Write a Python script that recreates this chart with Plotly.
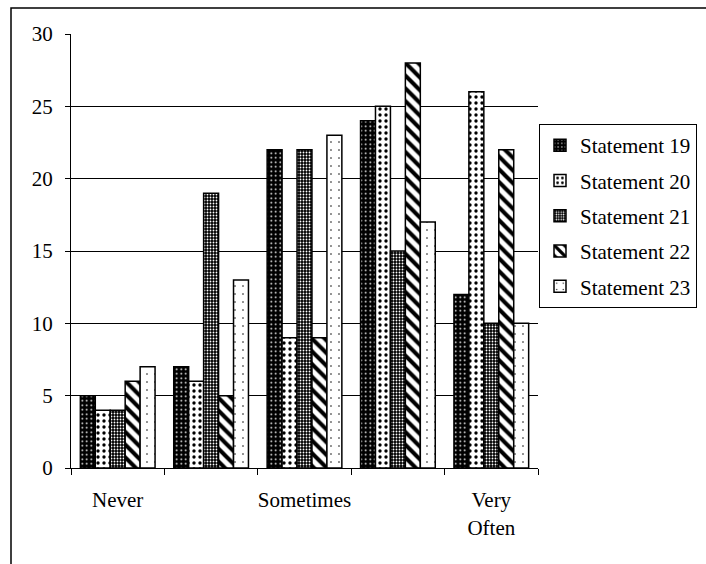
import plotly.graph_objects as go

# Response categories (two unlabeled in-between points on the scale)
categories = ["Never", " ", "Sometimes", "  ", "Very<br>Often"]

series_names = ["Statement 19", "Statement 20", "Statement 21", "Statement 22", "Statement 23"]
statement_19 = [5, 7, 22, 24, 12]
statement_20 = [4, 6, 9, 25, 26]
statement_21 = [4, 19, 22, 15, 10]
statement_22 = [6, 5, 9, 28, 22]
statement_23 = [7, 13, 23, 17, 10]
series_values = [statement_19, statement_20, statement_21, statement_22, statement_23]

y_ticks = [0, 5, 10, 15, 20, 25, 30]

# Black-and-white fill patterns, one per statement
patterns = [
    dict(shape=".", fgcolor="white", bgcolor="black", size=4.5, solidity=0.12),
    dict(shape=".", fgcolor="black", bgcolor="white", size=6, solidity=0.25),
    dict(shape=".", fgcolor="white", bgcolor="black", size=3, solidity=0.3),
    dict(shape="\\", fgcolor="black", bgcolor="white", size=9, solidity=0.45),
    dict(shape=".", fgcolor="black", bgcolor="white", size=8, solidity=0.03),
]

FONT = "Liberation Serif"
FS = 21
W, H = 706, 564

fig = go.Figure()
for i, (name, vals, pat) in enumerate(zip(series_names, series_values, patterns)):
    fig.add_trace(go.Bar(
        x=categories, y=vals, name=name, legendgroup=f"g{i}",
        marker=dict(color=pat["bgcolor"], pattern=dict(fillmode="replace", **pat),
                    line=dict(color="black", width=1.5)),
    ))

fig.update_layout(
    width=W, height=H,
    margin=dict(l=71, r=168, t=34, b=96, autoexpand=False),
    paper_bgcolor="white", plot_bgcolor="white",
    font=dict(family=FONT, size=FS, color="black"),
    barmode="group", bargap=0.2, bargroupgap=0,
    showlegend=True,
    legend=dict(
        xref="container", yref="container",
        x=539 / W, xanchor="left", y=1 - 124 / H, yanchor="top",
        bordercolor="black", borderwidth=1, bgcolor="white",
        font=dict(family=FONT, size=FS, color="black"),
        tracegroupgap=5, itemwidth=30,
    ),
    xaxis=dict(
        type="category", tickson="boundaries", tickangle=0,
        ticks="outside", ticklen=6, tickcolor="black",
        showline=True, linecolor="black", linewidth=1,
        showgrid=False, ticklabelstandoff=13,
        tickfont=dict(family=FONT, size=FS, color="black"),
    ),
    yaxis=dict(
        range=[0, 30], tickvals=y_ticks,
        ticks="outside", ticklen=5, tickcolor="black",
        showline=True, linecolor="black", linewidth=1,
        showgrid=True, gridcolor="black", gridwidth=1,
        zeroline=False, ticklabelstandoff=8,
        tickfont=dict(family=FONT, size=FS, color="black"),
    ),
)

# Outer chart frame
fig.add_shape(type="rect", xref="paper", yref="paper",
              x0=(11 - 71) / 467, x1=2.0, y0=-1.0, y1=1 + (34 - 8) / 434,
              line=dict(color="black", width=1.5), fillcolor="rgba(0,0,0,0)", layer="below")

fig.write_html("out.html")
